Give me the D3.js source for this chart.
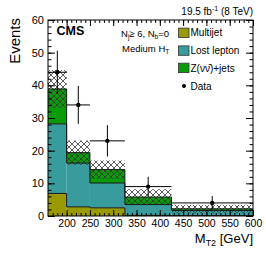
<html>
<head>
	<meta charset="utf-8">
	<script src="https://d3js.org/d3.v7.min.js"></script>
	<style>
		body { margin: 0; background: #fff; }
		text { font-family: "Liberation Sans", Arial, sans-serif; fill: #000; }
	</style>
</head>
<body>
	<script>

		// MT2 bins and stacked background predictions
		var binEdges = [160, 200, 250, 325, 425, 600];
		var multijet = [6.9, 2.8, 2.5, 0.2, 0.1];
		var lostLepton = [21.3, 13.4, 7.6, 3.3, 1.6];
		var zinv = [10.7, 3.2, 4.1, 2.3, 0.5];
		var bkgUnc = [5.8, 3.7, 2.8, 2.4, 1.2];

		// observed data
		var dataCounts = [44, 34, 23, 9, 4];
		var dataErr = [6.6, 5.8, 4.8, 3.0, 2.1];

		var xTicks = [200, 250, 300, 350, 400, 450, 500, 550, 600];
		var yTicks = [0, 10, 20, 30, 40, 50, 60];

		var seriesKeys = ["multijet", "lostLepton", "zinv"];
		var seriesNames = ["Multijet", "Lost lepton", "Z(\u03bd\u03bd\u0304)+jets"];
		var seriesColors = ["#999900", "#389c9c", "#0a9a0a"];

		var width = 266,
		height = 255;

		// frame edges (note: "top" is reserved on window)
		var padL = 48, padR = 253, padT = 20, padB = 216;

		var svg = d3.select("body").append("svg")
		.attr("width", width)
		.attr("height", height);

		var x = d3.scaleLinear().domain([160, 600]).range([padL, padR]);
		var y = d3.scaleLinear().domain([0, 60]).range([padB, padT]);

		var defs = svg.append("defs");
		var pat = defs.append("pattern")
		.attr("id", "hatch")
		.attr("patternUnits", "userSpaceOnUse")
		.attr("width", 6)
		.attr("height", 6);
		pat.append("path")
		.attr("d", "M0,0L6,6M6,0L0,6")
		.attr("stroke", "#333")
		.attr("stroke-width", 0.8);

		var clip = defs.append("clipPath").attr("id", "plotclip");
		clip.append("rect").attr("x", padL).attr("y", padT).attr("width", padR - padL).attr("height", padB - padT);

		// table for d3.stack
		var rows = multijet.map(function(v, i) {
			return { lo: binEdges[i], hi: binEdges[i + 1], multijet: v, lostLepton: lostLepton[i], zinv: zinv[i] };
		});
		var layers = d3.stack().keys(seriesKeys)(rows);

		var plot = svg.append("g").attr("clip-path", "url(#plotclip)");

		layers.forEach(function(layer, k) {
			plot.selectAll(".bar" + k)
			.data(layer)
			.enter().append("rect")
			.attr("x", function(d) { return x(d.data.lo); })
			.attr("width", function(d) { return x(d.data.hi) - x(d.data.lo); })
			.attr("y", function(d) { return y(d[1]); })
			.attr("height", function(d) { return y(d[0]) - y(d[1]); })
			.attr("fill", seriesColors[k]);
		});

		// uncertainty band
		var totals = layers[layers.length - 1];
		plot.selectAll(".unc")
		.data(totals)
		.enter().append("rect")
		.attr("x", function(d) { return x(d.data.lo); })
		.attr("width", function(d) { return x(d.data.hi) - x(d.data.lo); })
		.attr("y", function(d, i) { return y(d[1] + bkgUnc[i]); })
		.attr("height", function(d, i) { return y(d[1] - bkgUnc[i]) - y(d[1] + bkgUnc[i]); })
		.attr("fill", "url(#hatch)");

		// step outlines
		var step = d3.line()
		.x(function(d) { return x(d[0]); })
		.y(function(d) { return y(d[1]); })
		.curve(d3.curveStepAfter);

		layers.forEach(function(layer) {
			var p = layer.map(function(d) { return [d.data.lo, d[1]]; });
			p.push([600, layer[layer.length - 1][1]]);
			plot.append("path")
			.attr("d", step(p))
			.attr("fill", "none")
			.attr("stroke", "#1a1a1a")
			.attr("stroke-width", 1);
		});

		// data points
		var pts = svg.append("g");
		dataCounts.forEach(function(n, i) {
			var cx = x((binEdges[i] + binEdges[i + 1]) / 2);
			pts.append("line")
			.attr("x1", x(binEdges[i])).attr("x2", x(binEdges[i + 1]))
			.attr("y1", y(n)).attr("y2", y(n))
			.attr("stroke", "#000").attr("stroke-width", 1);
			pts.append("line")
			.attr("x1", cx).attr("x2", cx)
			.attr("y1", y(n + dataErr[i])).attr("y2", y(n - dataErr[i]))
			.attr("stroke", "#000").attr("stroke-width", 1);
			pts.append("circle")
			.attr("cx", cx).attr("cy", y(n))
			.attr("r", 2.2)
			.attr("fill", "#000");
		});

		// axes (ticks inside the frame)
		var xMinor = d3.range(170, 600, 10);
		var yMinor = d3.range(2, 60, 2);

		function noDomain(g) { g.select(".domain").remove(); }

		svg.append("g")
		.attr("transform", "translate(0," + padB + ")")
		.call(d3.axisBottom(x).tickValues(xMinor).tickSize(-3).tickFormat(""))
		.call(noDomain);
		svg.append("g")
		.attr("transform", "translate(0," + padB + ")")
		.call(d3.axisBottom(x).tickValues(xTicks).tickSize(-6).tickPadding(4))
		.call(noDomain)
		.selectAll("text").style("font-size", "10.5px").attr("font-family", "Liberation Sans, Arial, sans-serif");

		svg.append("g")
		.attr("transform", "translate(0," + padT + ")")
		.call(d3.axisTop(x).tickValues(xMinor).tickSize(-3).tickFormat(""))
		.call(noDomain);
		svg.append("g")
		.attr("transform", "translate(0," + padT + ")")
		.call(d3.axisTop(x).tickValues(xTicks).tickSize(-6).tickFormat(""))
		.call(noDomain);

		svg.append("g")
		.attr("transform", "translate(" + padL + ",0)")
		.call(d3.axisLeft(y).tickValues(yMinor).tickSize(-3.5).tickFormat(""))
		.call(noDomain);
		svg.append("g")
		.attr("transform", "translate(" + padL + ",0)")
		.call(d3.axisLeft(y).tickValues(yTicks).tickSize(-7).tickPadding(4))
		.call(noDomain)
		.selectAll("text").style("font-size", "11px").attr("font-family", "Liberation Sans, Arial, sans-serif");

		svg.append("g")
		.attr("transform", "translate(" + padR + ",0)")
		.call(d3.axisRight(y).tickValues(yMinor).tickSize(-3.5).tickFormat(""))
		.call(noDomain);
		svg.append("g")
		.attr("transform", "translate(" + padR + ",0)")
		.call(d3.axisRight(y).tickValues(yTicks).tickSize(-7).tickFormat(""))
		.call(noDomain);

		svg.selectAll(".tick line").attr("stroke", "#000");

		svg.append("rect")
		.attr("x", padL).attr("y", padT)
		.attr("width", padR - padL).attr("height", padB - padT)
		.attr("fill", "none")
		.attr("stroke", "#000")
		.attr("stroke-width", 1);

		// axis titles
		svg.append("text")
		.attr("transform", "translate(19.5,18) rotate(-90)")
		.attr("text-anchor", "end")
		.style("font-size", "15px")
		.text("Events");

		var xt = svg.append("text")
		.attr("x", padR).attr("y", 242.5)
		.attr("text-anchor", "end")
		.style("font-size", "13px");
		xt.append("tspan").text("M");
		xt.append("tspan").attr("dy", 3).style("font-size", "9px").text("T2");
		xt.append("tspan").attr("dy", -3).text(" [GeV]");

		// labels
		var lumi = svg.append("text")
		.attr("x", padR).attr("y", 14.5)
		.attr("text-anchor", "end")
		.style("font-size", "10px");
		lumi.append("tspan").text("19.5 fb");
		lumi.append("tspan").attr("dy", -4).style("font-size", "7px").text("-1");
		lumi.append("tspan").attr("dy", 4).text(" (8 TeV)");

		svg.append("text")
		.attr("x", 56.5).attr("y", 35)
		.style("font-size", "12.5px")
		.style("font-weight", "bold")
		.text("CMS");

		var sel = svg.append("text")
		.attr("x", 121).attr("y", 36.5)
		.style("font-size", "9.5px");
		sel.append("tspan").text("N");
		sel.append("tspan").attr("dy", 2.5).style("font-size", "6.5px").text("j");
		sel.append("tspan").attr("dy", -2.5).text("\u2265 6, N");
		sel.append("tspan").attr("dy", 2.5).style("font-size", "6.5px").text("b");
		sel.append("tspan").attr("dy", -2.5).text("=0");

		var ht = svg.append("text")
		.attr("x", 122).attr("y", 51.5)
		.style("font-size", "9.5px");
		ht.append("tspan").text("Medium H");
		ht.append("tspan").attr("dy", 2.5).style("font-size", "6.5px").text("T");

		// legend
		var legendY = [32.8, 50.6, 67.9];
		var legend = svg.append("g");
		seriesNames.forEach(function(name, k) {
			legend.append("rect")
			.attr("x", 178.5).attr("y", legendY[k] - 4.7)
			.attr("width", 10.5).attr("height", 9.4)
			.attr("fill", seriesColors[k])
			.attr("stroke", "#333")
			.attr("stroke-width", 0.8);
			legend.append("text")
			.attr("x", 190.5).attr("y", legendY[k] + 3.6)
			.style("font-size", "10px")
			.text(name);
		});
		legend.append("circle")
		.attr("cx", 184).attr("cy", 86).attr("r", 2)
		.attr("fill", "#000");
		legend.append("text")
		.attr("x", 190.5).attr("y", 89.6)
		.style("font-size", "10px")
		.text("Data");

	</script>
</body>
</html>
